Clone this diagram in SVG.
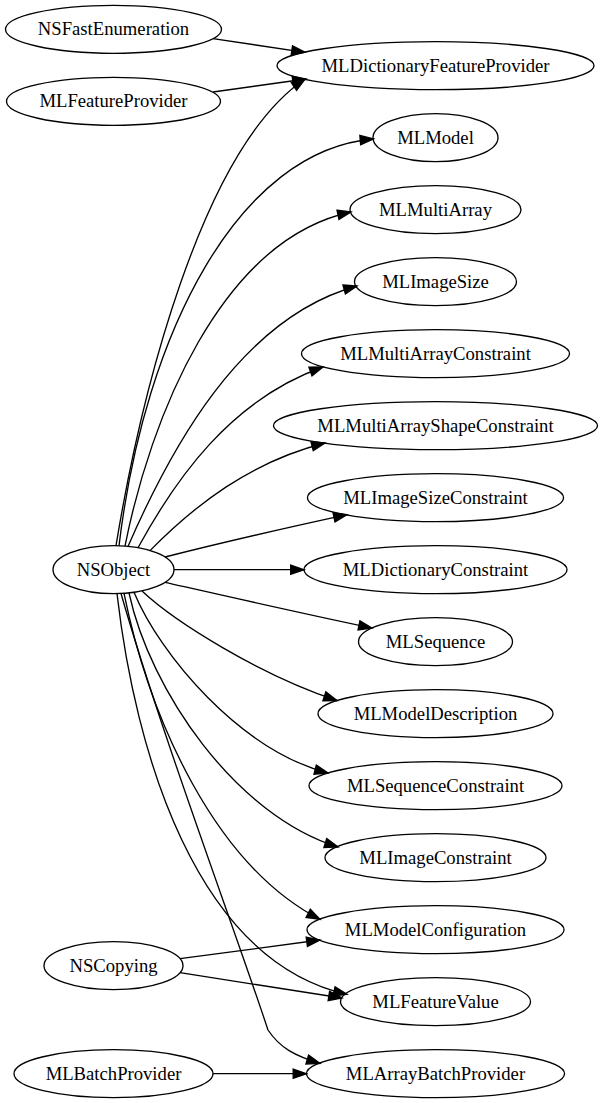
<svg xmlns="http://www.w3.org/2000/svg" width="603" height="1103" viewBox="0 0 603 1103">
<defs>
<marker id="arr" markerUnits="userSpaceOnUse" markerWidth="16" markerHeight="12" refX="13.3" refY="4.67" orient="auto" overflow="visible">
<path d="M0,0 L13.3,4.67 L0,9.33 Z" fill="#000" stroke="#000" stroke-width="1.33"/>
</marker>
<style>
.n ellipse{fill:none;stroke:#000;stroke-width:1.33}
.n text{font-family:"Liberation Serif","Times New Roman",serif;font-size:18.67px;text-anchor:middle;fill:#000}
#edges path{fill:none;stroke:#000;stroke-width:1.33;marker-end:url(#arr)}
</style>
</defs>
<rect width="603" height="1103" fill="#fff"/>
<g id="edges">
<path d="M213,38.6 L305,52.3"/>
<path d="M213,92 L306,79"/>
<path d="M116,545.7 C140,400 200,150 305,79"/>
<path d="M119,545.8 C145,330 240,150 373.5,139"/>
<path d="M125,546.1 C150,420 220,240 351,212"/>
<path d="M128,546.4 C170,450 240,318 357,286"/>
<path d="M138,547.8 C175,480 230,400 323,367"/>
<path d="M150,550.6 C195,505 250,462 325,443"/>
<path d="M165,557 C220,543 290,527 347,514.6"/>
<path d="M174,569.7 L304,569.7"/>
<path d="M165,582.3 C230,597 300,613 372,628"/>
<path d="M142,591 C175,622 260,675 337,700.5"/>
<path d="M134,592.2 C160,655 240,750 328,773"/>
<path d="M129,593 C150,690 235,815 338,847"/>
<path d="M124,593.3 C150,720 215,865 320,919.4"/>
<path d="M117,593.7 C135,750 195,960 347,994.4"/>
<path d="M121,593.5 C160,730 235,930 268,1030 C280,1048 295,1056 320,1063.4"/>
<path d="M180,958.7 L320,940"/>
<path d="M180,972.7 L342,998"/>
<path d="M213,1073.7 L306.5,1073.7"/>
</g>
<g id="NSFastEnumeration" class="n"><ellipse cx="113.5" cy="29.3" rx="108" ry="24"/><text x="113.5" y="35.3">NSFastEnumeration</text></g>
<g id="MLFeatureProvider" class="n"><ellipse cx="113.5" cy="101.3" rx="107" ry="24"/><text x="113.5" y="107.3">MLFeatureProvider</text></g>
<g id="NSObject" class="n"><ellipse cx="113.5" cy="569.7" rx="60.5" ry="24"/><text x="113.5" y="575.7">NSObject</text></g>
<g id="NSCopying" class="n"><ellipse cx="113.5" cy="965.7" rx="69.5" ry="24"/><text x="113.5" y="971.7">NSCopying</text></g>
<g id="MLBatchProvider" class="n"><ellipse cx="113.5" cy="1073.7" rx="99.5" ry="24"/><text x="113.5" y="1079.7">MLBatchProvider</text></g>
<g id="MLDictionaryFeatureProvider" class="n"><ellipse cx="435.5" cy="65.7" rx="158.5" ry="24"/><text x="435.5" y="71.7">MLDictionaryFeatureProvider</text></g>
<g id="MLModel" class="n"><ellipse cx="435.5" cy="137.7" rx="62.5" ry="24"/><text x="435.5" y="143.7">MLModel</text></g>
<g id="MLMultiArray" class="n"><ellipse cx="435.5" cy="209.7" rx="85.5" ry="24"/><text x="435.5" y="215.7">MLMultiArray</text></g>
<g id="MLImageSize" class="n"><ellipse cx="435.5" cy="281.7" rx="81" ry="24"/><text x="435.5" y="287.7">MLImageSize</text></g>
<g id="MLMultiArrayConstraint" class="n"><ellipse cx="435.5" cy="353.7" rx="134" ry="24"/><text x="435.5" y="359.7">MLMultiArrayConstraint</text></g>
<g id="MLMultiArrayShapeConstraint" class="n"><ellipse cx="435.5" cy="425.7" rx="162" ry="24"/><text x="435.5" y="431.7">MLMultiArrayShapeConstraint</text></g>
<g id="MLImageSizeConstraint" class="n"><ellipse cx="435.5" cy="497.7" rx="128" ry="24"/><text x="435.5" y="503.7">MLImageSizeConstraint</text></g>
<g id="MLDictionaryConstraint" class="n"><ellipse cx="435.5" cy="569.7" rx="131.5" ry="24"/><text x="435.5" y="575.7">MLDictionaryConstraint</text></g>
<g id="MLSequence" class="n"><ellipse cx="435.5" cy="641.7" rx="77" ry="24"/><text x="435.5" y="647.7">MLSequence</text></g>
<g id="MLModelDescription" class="n"><ellipse cx="435.5" cy="713.7" rx="117.5" ry="24"/><text x="435.5" y="719.7">MLModelDescription</text></g>
<g id="MLSequenceConstraint" class="n"><ellipse cx="435.5" cy="785.7" rx="126.5" ry="24"/><text x="435.5" y="791.7">MLSequenceConstraint</text></g>
<g id="MLImageConstraint" class="n"><ellipse cx="435.5" cy="857.7" rx="110.5" ry="24"/><text x="435.5" y="863.7">MLImageConstraint</text></g>
<g id="MLModelConfiguration" class="n"><ellipse cx="435.5" cy="929.7" rx="128.5" ry="24"/><text x="435.5" y="935.7">MLModelConfiguration</text></g>
<g id="MLFeatureValue" class="n"><ellipse cx="435.5" cy="1001.7" rx="95" ry="24"/><text x="435.5" y="1007.7">MLFeatureValue</text></g>
<g id="MLArrayBatchProvider" class="n"><ellipse cx="435.5" cy="1073.7" rx="129" ry="24"/><text x="435.5" y="1079.7">MLArrayBatchProvider</text></g>
</svg>
